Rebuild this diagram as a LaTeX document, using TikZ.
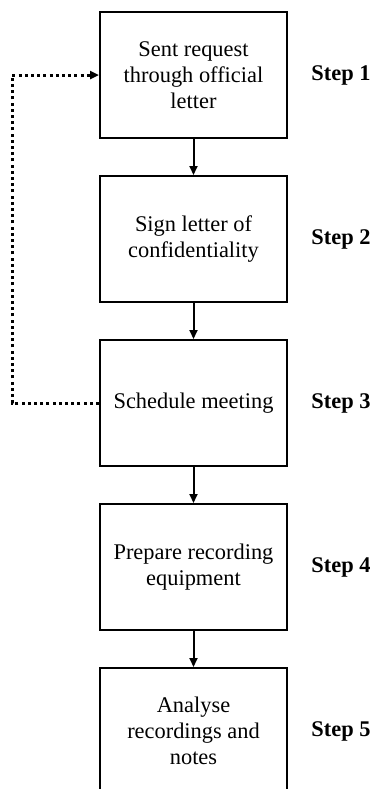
\documentclass[tikz,border=0pt]{standalone}
\usepackage{fontspec}
\setmainfont{Liberation Serif}
\usetikzlibrary{positioning,arrows.meta}

\begin{document}
\begin{tikzpicture}[
  node distance=18pt,
  >={Triangle[length=4.5pt,width=4pt]},
  box/.style={draw, line width=1pt, minimum width=93.5pt, minimum height=63pt, inner sep=2pt, align=center, font=\fontsize{11.2}{13}\selectfont},
  tag/.style={inner sep=0pt, font=\fontsize{11.2}{13}\selectfont\bfseries},
  flow/.style={->, line width=1pt},
  loopback/.style={->, line width=1.5pt, dash pattern=on 1.5pt off 1.6pt}
]
\useasboundingbox (0,0) rectangle (185pt,-394.5pt);

\node[box] (req) at (96.75pt,-37.5pt) {Sent request\\through official\\letter};
\node[box] (sign)  [below=of req]   {Sign letter of\\confidentiality};
\node[box] (meet)  [below=of sign]  {Schedule meeting};
\node[box] (equip) [below=of meet]  {Prepare recording\\equipment};
\node[box] (anal)  [below=of equip] {Analyse\\recordings and\\notes};

\draw[flow] (req) -- (sign);
\draw[flow] (sign) -- (meet);
\draw[flow] (meet) -- (equip);
\draw[flow] (equip) -- (anal);

\draw[loopback] (meet.west) -- ++(-43.5pt,0) |- (req.west);

\node[tag] [right=11.5pt of req]   {Step 1};
\node[tag] [right=11.5pt of sign]  {Step 2};
\node[tag] [right=11.5pt of meet]  {Step 3};
\node[tag] [right=11.5pt of equip] {Step 4};
\node[tag] [right=11.5pt of anal]  {Step 5};
\end{tikzpicture}
\end{document}
